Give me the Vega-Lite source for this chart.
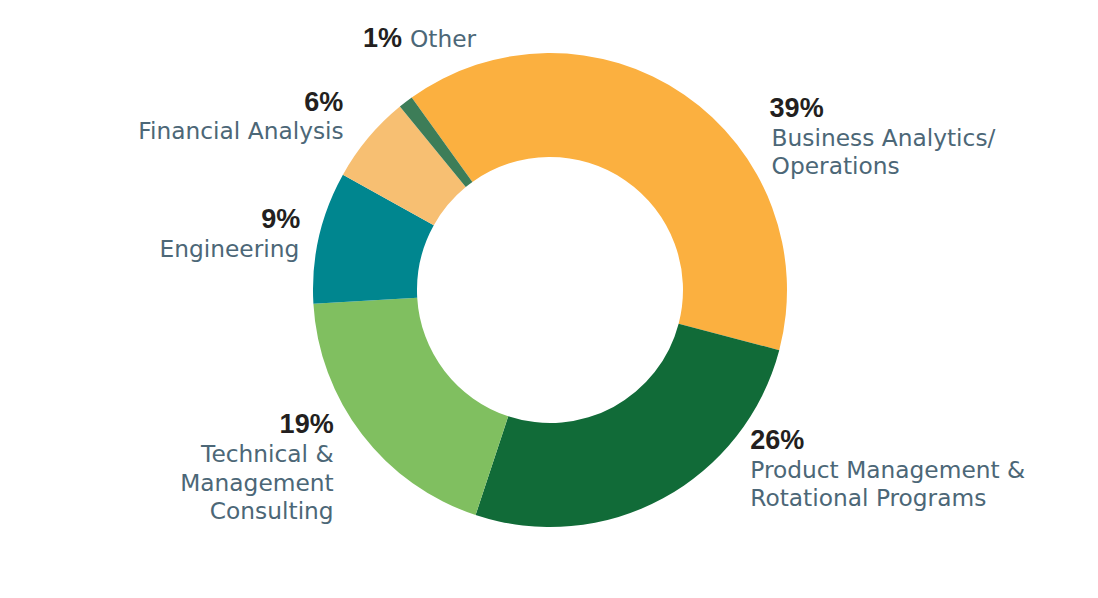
{
  "$schema": "https://vega.github.io/schema/vega-lite/v6.json",
  "width": 1100,
  "height": 580,
  "autosize": "none",
  "padding": 0,
  "background": "white",
  "view": {"stroke": null},
  "data": {
    "values": [
      {"cat": "Business", "label": "Business Analytics/\nOperations", "share": 0.39},
      {"cat": "Product", "label": "Product Management &\nRotational Programs", "share": 0.26},
      {"cat": "Technical", "label": "Technical &\u2002\nManagement\nConsulting", "share": 0.19},
      {"cat": "Engineering", "label": "Engineering", "share": 0.09},
      {"cat": "Financial", "label": "Financial Analysis", "share": 0.06},
      {"cat": "Other", "label": "Other", "share": 0.01}
    ]
  },
  "encoding": {
    "theta": {"field": "share", "type": "quantitative", "stack": true, "scale": {"domain": [0, 1], "range": [-0.6231, 5.6601]}},
    "order": {"field": "share", "sort": "descending"}
  },
  "layer": [
    {
      "mark": {"type": "arc", "radius": 237, "radius2": 133},
      "encoding": {
        "color": {"field": "cat", "type": "nominal", "legend": null,
          "scale": {"domain": ["Business", "Product", "Technical", "Engineering", "Financial", "Other"],
                    "range": ["#FBB040", "#116B38", "#80BF60", "#00868F", "#F7BF72", "#3D7D58"]}}
      }
    },
    {
      "mark": {"type": "text", "font": "Liberation Sans", "fontWeight": "bold", "fontSize": 27, "fill": "#231F20", "align": "left", "baseline": "alphabetic", "dx": 78, "dy": 33},
      "encoding": {"radius": {"value": 250}, "text": {"condition": {"test": "datum.cat === 'Business'", "field": "share", "type": "quantitative", "format": ".0%"}, "value": ""}}
    },
    {
      "mark": {"type": "text", "font": "DejaVu Sans", "fontSize": 23.3, "fill": "#4C6777", "align": "left", "baseline": "alphabetic", "dx": 80, "dy": 62, "lineBreak": "\n", "lineHeight": 28.5},
      "encoding": {"radius": {"value": 250}, "text": {"condition": {"test": "datum.cat === 'Business'", "field": "label", "type": "nominal"}, "value": ""}}
    },
    {
      "mark": {"type": "text", "font": "Liberation Sans", "fontWeight": "bold", "fontSize": 27, "fill": "#231F20", "align": "left", "baseline": "alphabetic", "dx": 81, "dy": -61},
      "encoding": {"radius": {"value": 250}, "text": {"condition": {"test": "datum.cat === 'Product'", "field": "share", "type": "quantitative", "format": ".0%"}, "value": ""}}
    },
    {
      "mark": {"type": "text", "font": "DejaVu Sans", "fontSize": 23.3, "fill": "#4C6777", "align": "left", "baseline": "alphabetic", "dx": 81, "dy": -32, "lineBreak": "\n", "lineHeight": 28.5},
      "encoding": {"radius": {"value": 250}, "text": {"condition": {"test": "datum.cat === 'Product'", "field": "label", "type": "nominal"}, "value": ""}}
    },
    {
      "mark": {"type": "text", "font": "Liberation Sans", "fontWeight": "bold", "fontSize": 27, "fill": "#231F20", "align": "right", "baseline": "alphabetic", "dx": -18, "dy": -9},
      "encoding": {"radius": {"value": 250}, "text": {"condition": {"test": "datum.cat === 'Technical'", "field": "share", "type": "quantitative", "format": ".0%"}, "value": ""}}
    },
    {
      "mark": {"type": "text", "font": "DejaVu Sans", "fontSize": 23.3, "fill": "#4C6777", "align": "right", "baseline": "alphabetic", "dx": -18, "dy": 20, "lineBreak": "\n", "lineHeight": 28.5},
      "encoding": {"radius": {"value": 250}, "text": {"condition": {"test": "datum.cat === 'Technical'", "field": "label", "type": "nominal"}, "value": ""}}
    },
    {
      "mark": {"type": "text", "font": "Liberation Sans", "fontWeight": "bold", "fontSize": 27, "fill": "#231F20", "align": "right", "baseline": "alphabetic", "dx": -6, "dy": -6},
      "encoding": {"radius": {"value": 250}, "text": {"condition": {"test": "datum.cat === 'Engineering'", "field": "share", "type": "quantitative", "format": ".0%"}, "value": ""}}
    },
    {
      "mark": {"type": "text", "font": "DejaVu Sans", "fontSize": 23.3, "fill": "#4C6777", "align": "right", "baseline": "alphabetic", "dx": -7, "dy": 23},
      "encoding": {"radius": {"value": 250}, "text": {"condition": {"test": "datum.cat === 'Engineering'", "field": "label", "type": "nominal"}, "value": ""}}
    },
    {
      "mark": {"type": "text", "font": "Liberation Sans", "fontWeight": "bold", "fontSize": 27, "fill": "#231F20", "align": "right", "baseline": "alphabetic", "dx": -15, "dy": -19},
      "encoding": {"radius": {"value": 250}, "text": {"condition": {"test": "datum.cat === 'Financial'", "field": "share", "type": "quantitative", "format": ".0%"}, "value": ""}}
    },
    {
      "mark": {"type": "text", "font": "DejaVu Sans", "fontSize": 23.3, "fill": "#4C6777", "align": "right", "baseline": "alphabetic", "dx": -14.5, "dy": 9.6},
      "encoding": {"radius": {"value": 250}, "text": {"condition": {"test": "datum.cat === 'Financial'", "field": "label", "type": "nominal"}, "value": ""}}
    },
    {
      "mark": {"type": "text", "font": "Liberation Sans", "fontWeight": "bold", "fontSize": 27, "fill": "#231F20", "align": "left", "baseline": "alphabetic", "dx": -34.8, "dy": -44.7},
      "encoding": {"radius": {"value": 250}, "text": {"condition": {"test": "datum.cat === 'Other'", "field": "share", "type": "quantitative", "format": ".0%"}, "value": ""}}
    },
    {
      "mark": {"type": "text", "font": "DejaVu Sans", "fontSize": 23.3, "fill": "#4C6777", "align": "left", "baseline": "alphabetic", "dx": 12.2, "dy": -44.7},
      "encoding": {"radius": {"value": 250}, "text": {"condition": {"test": "datum.cat === 'Other'", "field": "label", "type": "nominal"}, "value": ""}}
    }
  ]
}
